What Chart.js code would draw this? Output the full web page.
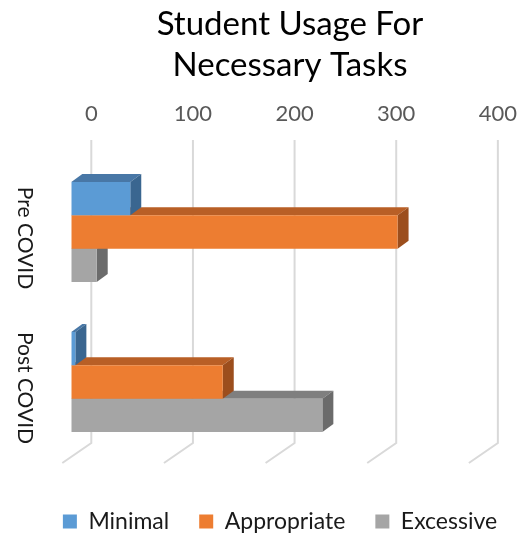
<!DOCTYPE html>
<html>
<head>
<meta charset="utf-8">
<script src="https://cdn.jsdelivr.net/npm/chart.js@4.4.1/dist/chart.umd.min.js"></script>
<style>
  html, body { margin: 0; padding: 0; background: #fff; }
  #wrap { width: 527px; height: 535px; }
</style>
</head>
<body>
<div id="wrap"><canvas id="chart"></canvas></div>
<script>
// data
var categories = ['Pre COVID', 'Post COVID'];
var seriesNames = ['Minimal', 'Appropriate', 'Excessive'];
var minimal = [58, 4];
var appropriate = [321, 149];
var excessive = [25, 247];
var xTicks = [0, 100, 200, 300, 400];
var titleLines = ['Student Usage For', 'Necessary Tasks'];

// face colours: front, top, side
var faces = [
  ['#5B9BD5', '#4877A6', '#3A6690'],
  ['#ED7D31', '#B85F26', '#9C4E1D'],
  ['#A5A5A5', '#7F7F7F', '#6B6B6B']
];

var FONT = 'Lato';
// oblique offsets for the fake 3d look
var WALL_DX = 20, WALL_DY = -14;   // back wall vs. bar fronts
var FLOOR_DX = -9, FLOOR_DY = 6;   // front edge of the floor
var BAR_DX = 11, BAR_DY = -8;      // bar depth

var depthPlugin = {
  id: 'depth',
  beforeDatasetsDraw: function (chart) {
    var ctx = chart.ctx, area = chart.chartArea, xs = chart.scales.x;
    ctx.save();
    ctx.strokeStyle = '#D9D9D9';
    ctx.lineWidth = 2;
    xTicks.forEach(function (v) {
      var px = xs.getPixelForValue(v);
      ctx.beginPath();
      ctx.moveTo(px + WALL_DX, area.top - 17);
      ctx.lineTo(px + WALL_DX, area.bottom + WALL_DY);
      ctx.lineTo(px + FLOOR_DX, area.bottom + FLOOR_DY);
      ctx.stroke();
    });
    ctx.restore();
  },
  beforeDatasetDraw: function (chart, args) {
    var ds = chart.data.datasets[args.index];
    var ctx = chart.ctx;
    ctx.save();
    args.meta.data.forEach(function (bar) {
      var p = bar.getProps(['x', 'y', 'base', 'height'], true);
      var t = p.y - p.height / 2, b = p.y + p.height / 2;
      var l = Math.min(p.base, p.x), r = Math.max(p.base, p.x);
      ctx.fillStyle = ds.topColor;
      ctx.beginPath();
      ctx.moveTo(l, t);
      ctx.lineTo(l + BAR_DX, t + BAR_DY);
      ctx.lineTo(r + BAR_DX, t + BAR_DY);
      ctx.lineTo(r, t);
      ctx.closePath();
      ctx.fill();
      ctx.fillStyle = ds.sideColor;
      ctx.beginPath();
      ctx.moveTo(r, t);
      ctx.lineTo(r + BAR_DX, t + BAR_DY);
      ctx.lineTo(r + BAR_DX, b + BAR_DY);
      ctx.lineTo(r, b);
      ctx.closePath();
      ctx.fill();
    });
    ctx.restore();
  }
};

var titlePlugin = {
  id: 'twoLineTitle',
  afterDraw: function (chart) {
    var ctx = chart.ctx;
    ctx.save();
    ctx.fillStyle = '#000';
    ctx.font = '33px ' + FONT;
    ctx.textAlign = 'center';
    ctx.textBaseline = 'alphabetic';
    ctx.fillText(titleLines[0], 290, 35);
    ctx.fillText(titleLines[1], 290, 76);
    ctx.restore();
  }
};

var values = [minimal, appropriate, excessive];
var datasets = seriesNames.map(function (name, i) {
  return {
    label: name,
    data: values[i],
    backgroundColor: faces[i][0],
    topColor: faces[i][1],
    sideColor: faces[i][2],
    borderWidth: 0,
    categoryPercentage: 2 / 3,
    barPercentage: 1
  };
});

new Chart(document.getElementById('chart'), {
  type: 'bar',
  data: { labels: categories, datasets: datasets },
  plugins: [depthPlugin, titlePlugin],
  options: {
    indexAxis: 'y',
    responsive: true,
    maintainAspectRatio: false,
    animation: false,
    // right padding is negative so the legend row centres where the plot does
    layout: { padding: { left: 0, right: -33, top: 0, bottom: 0 } },
    scales: {
      x: {
        type: 'linear',
        position: 'top',
        min: 0,
        max: 440,
        afterBuildTicks: function (s) {
          s.ticks = xTicks.map(function (v) { return { value: v }; });
        },
        afterFit: function (s) { s.height = 157; },
        grid: { display: false, drawTicks: false },
        border: { display: false },
        ticks: {
          labelOffset: 20,
          padding: 30,
          color: '#595959',
          font: { family: FONT, size: 22 }
        }
      },
      y: {
        type: 'category',
        position: 'left',
        afterFit: function (s) { s.width = 71.3; },
        grid: { display: false, drawTicks: false },
        border: { display: false },
        ticks: {
          minRotation: -90,
          maxRotation: -90,
          crossAlign: 'center',
          padding: -10,
          labelOffset: 6,
          color: '#1a1a1a',
          font: { family: FONT, size: 21 }
        }
      }
    },
    plugins: {
      title: { display: false },
      tooltip: { enabled: false },
      legend: {
        position: 'bottom',
        maxHeight: 78,
        title: { display: true, text: '', font: { size: 10, lineHeight: 1 }, padding: { top: 13, bottom: 0 } },
        labels: {
          color: '#1a1a1a',
          font: { family: FONT, size: 23 },
          boxWidth: 14,
          boxHeight: 14,
          padding: 30
        }
      }
    }
  }
});
</script>
</body>
</html>
